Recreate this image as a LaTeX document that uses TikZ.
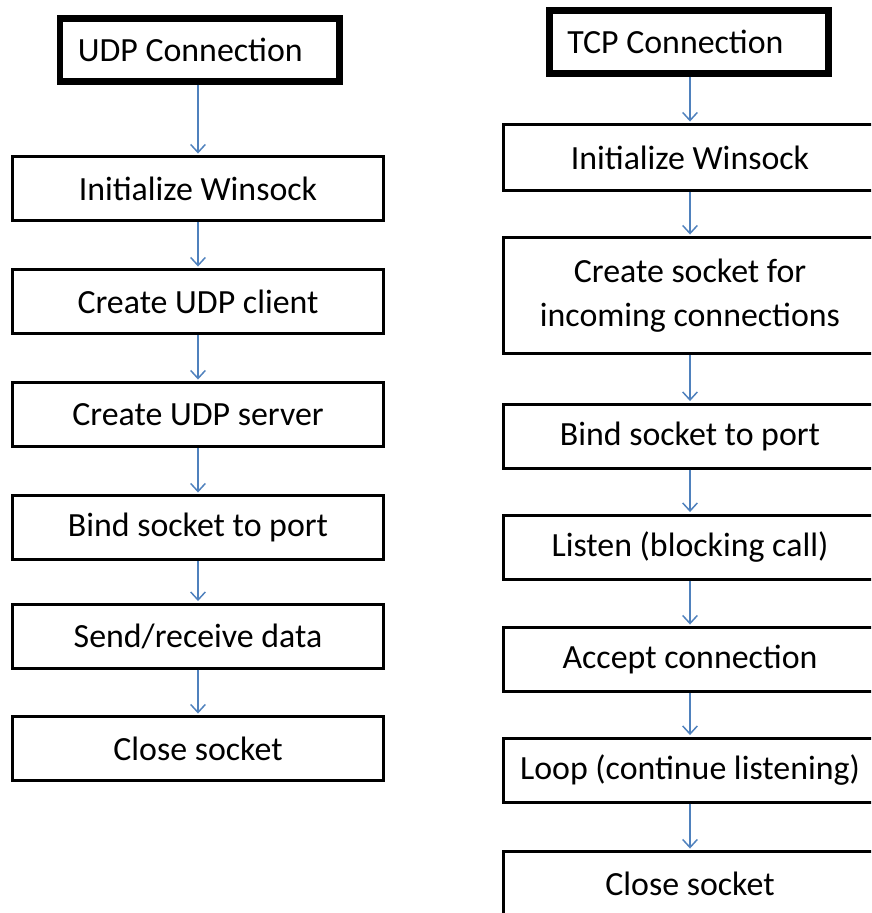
\documentclass[tikz,border=0pt]{standalone}
\usepackage{fontspec}
\setmainfont{Carlito}
\usetikzlibrary{arrows.meta}
\definecolor{flowblue}{HTML}{4F81BD}
\newcommand{\headtext}[1]{\makebox[182.5pt][l]{#1}}
\begin{document}
\begin{tikzpicture}[x=0.75pt,y=-0.75pt,
  stepbox/.style={draw=black, line width=2.25pt, fill=white, inner sep=0pt,
    font=\fontsize{25.4}{33}\selectfont, align=center},
  leftbox/.style={stepbox, minimum width=278pt, minimum height=48pt},
  rightbox/.style={stepbox, minimum width=280pt, minimum height=48pt},
  headbox/.style={draw=black, line width=5pt, fill=white, inner xsep=13.5pt, inner ysep=0pt,
    minimum height=47pt, font=\fontsize{25.4}{33}\selectfont},
  flow/.style={draw=flowblue, line width=1.1pt, shorten >=1.1pt,
    -{Straight Barb[length=6pt,width=11pt,line width=1.1pt]}}]
  \clip (0,0) rectangle (871,913);
  \fill[white] (0,0) rectangle (871,913);

  % UDP column
  \node[headbox] (udp) at (199.5,50) {\headtext{UDP Connection}};
  \node[leftbox] (u1) at (198,188.5) {Initialize Winsock};
  \node[leftbox] (u2) at (198,301.5) {Create UDP client};
  \node[leftbox] (u3) at (198,414.5) {Create UDP server};
  \node[leftbox] (u4) at (198,527.5) {Bind socket to port};
  \node[leftbox] (u5) at (198,636) {Send/receive data};
  \node[leftbox] (u6) at (198,748.5) {Close socket};

  % TCP column
  \node[headbox] (tcp) at (689,42) {\headtext{TCP Connection}};
  \node[rightbox, minimum height=49.5pt] (t1) at (690,157.5) {Initialize Winsock};
  \node[rightbox, minimum height=87pt] (t2) at (690,295.5) {Create socket for\\incoming connections};
  \node[rightbox] (t3) at (690,436) {Bind socket to port};
  \node[rightbox] (t4) at (690,547) {Listen (blocking call)};
  \node[rightbox] (t5) at (690,659.5) {Accept connection};
  \node[rightbox] (t6) at (690,770) {Loop (continue listening)};
  \node[rightbox] (t7) at (690,883.5) {Close socket};

  % connectors
  \draw[flow] (udp.south -| u1.north) -- (u1.north);
  \foreach \a/\b in {u1/u2,u2/u3,u3/u4,u4/u5,u5/u6,t1/t2,t2/t3,t3/t4,t4/t5,t5/t6,t6/t7}
    \draw[flow] (\a.south) -- (\b.north);
  \draw[flow] (tcp.south -| t1.north) -- (t1.north);
\end{tikzpicture}
\end{document}
